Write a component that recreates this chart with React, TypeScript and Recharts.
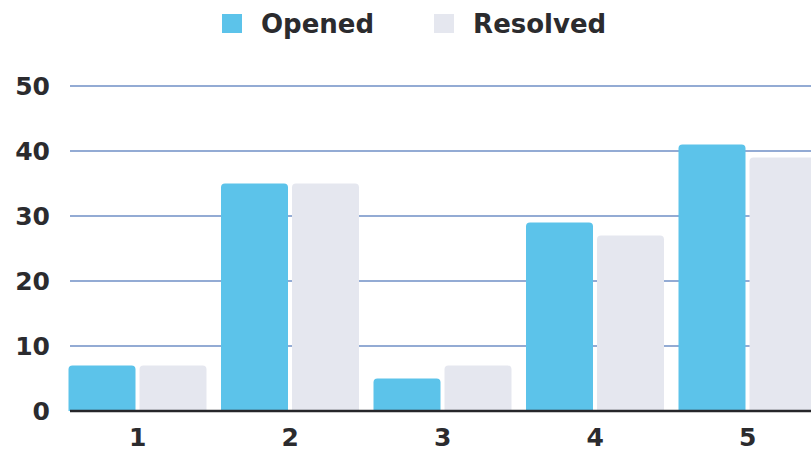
import { BarChart, Bar, XAxis, YAxis, CartesianGrid, Legend } from 'recharts'

const categories = ['1', '2', '3', '4', '5']
const opened = [7, 35, 5, 29, 41]
const resolved = [7, 35, 7, 27, 39]
const yTicks = [0, 10, 20, 30, 40, 50]

const OPENED_COLOR = '#5cc3ea'
const RESOLVED_COLOR = '#e5e7ef'
const FONT = '"DejaVu Sans", sans-serif'

const data = categories.map((name, i) => ({ name, opened: opened[i], resolved: resolved[i] }))

const legendItems = [
  { label: 'Opened', color: OPENED_COLOR },
  { label: 'Resolved', color: RESOLVED_COLOR },
]

function LegendContent() {
  return (
    <div style={{ display: 'flex', alignItems: 'center', fontFamily: FONT, height: 27 }}>
      {legendItems.map(item => (
        <div key={item.label} style={{ display: 'flex', alignItems: 'center', marginRight: 60 }}>
          <span style={{ width: 20, height: 19, background: item.color, display: 'inline-block', marginRight: 19 }} />
          <span style={{ fontSize: 26, fontWeight: 700, color: '#2b2b2e' }}>{item.label}</span>
        </div>
      ))}
    </div>
  )
}

export default function App() {
  return (
    <div style={{ position: 'absolute', left: 0, top: 0, width: 811, height: 452, overflow: 'hidden', background: '#fff' }}>
      <BarChart
        width={830}
        height={452}
        data={data}
        margin={{ top: 59, right: 6, bottom: 11, left: 0 }}
        barCategoryGap={7}
        barGap={4}
      >
        <CartesianGrid vertical={false} stroke="#6f8fc6" strokeWidth={1.5} />
        <XAxis
          dataKey="name"
          height={30}
          padding={{ left: -8.5, right: 0 }}
          axisLine={{ stroke: '#26262a', strokeWidth: 2.5 }}
          tickLine={false}
          tickMargin={11}
          tick={{ fontSize: 25, fontWeight: 700, fill: '#2b2b2e', fontFamily: FONT }}
        />
        <YAxis
          width={70}
          domain={[0, 50]}
          ticks={yTicks}
          axisLine={false}
          tickLine={false}
          tickMargin={14}
          tick={{ fontSize: 25, fontWeight: 700, fill: '#2b2b2e', fontFamily: FONT }}
        />
        <Legend verticalAlign="top" content={<LegendContent />} wrapperStyle={{ top: 10, left: 222, width: 500 }} />
        <Bar dataKey="opened" name="Opened" fill={OPENED_COLOR} radius={[4, 4, 0, 0]} isAnimationActive={false} />
        <Bar dataKey="resolved" name="Resolved" fill={RESOLVED_COLOR} radius={[4, 4, 0, 0]} isAnimationActive={false} />
      </BarChart>
    </div>
  )
}
